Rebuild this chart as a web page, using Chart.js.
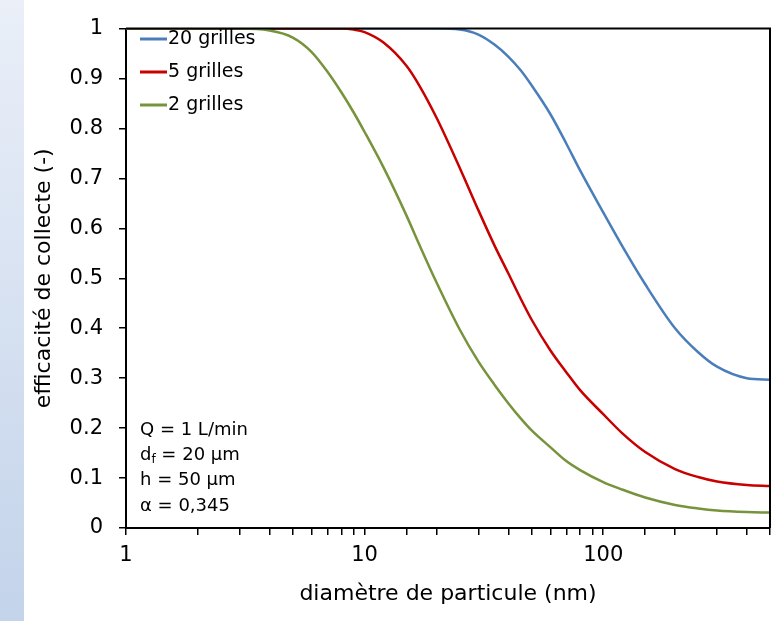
<!DOCTYPE html>
<html>
<head>
<meta charset="utf-8">
<script src="https://cdn.jsdelivr.net/npm/chart.js@4/dist/chart.umd.min.js"></script>
<style>
  body { margin: 0; background: #fff; }
  #bande { position: absolute; left: 0; top: 0; width: 24px; height: 621px;
           background: linear-gradient(#eaeff8, #c3d3ea); }
  #wrap { position: absolute; left: 0; top: 0; width: 783px; height: 621px; }
</style>
</head>
<body>
<div id="bande"></div>
<div id="wrap"><canvas id="graphe"></canvas></div>
<script>
// diamètres de particule (nm)
const diametres = [1, 2, 3, 4, 5, 6, 7, 8, 9, 10, 12, 15, 17, 20, 25, 30, 35, 40, 45, 50, 60, 70, 80, 100, 120, 150, 200, 250, 300, 400, 500];

// efficacité de collecte
const eff20 = [1, 1, 1, 1, 1, 1, 1, 1, 1, 1, 1, 1, 1, 1, 0.998, 0.988, 0.968, 0.944, 0.917, 0.887, 0.829, 0.77, 0.716, 0.632, 0.565, 0.488, 0.40, 0.352, 0.323, 0.300, 0.297];
const eff5 = [1, 1, 1, 1, 1, 1, 1, 1, 0.998, 0.993, 0.972, 0.925, 0.885, 0.822, 0.722, 0.636, 0.566, 0.51, 0.46, 0.418, 0.356, 0.312, 0.276, 0.228, 0.19, 0.152, 0.118, 0.102, 0.093, 0.086, 0.084];
const eff2 = [1, 1, 1, 0.996, 0.982, 0.953, 0.913, 0.872, 0.832, 0.793, 0.722, 0.625, 0.566, 0.492, 0.398, 0.333, 0.287, 0.25, 0.22, 0.196, 0.162, 0.134, 0.116, 0.092, 0.077, 0.061, 0.046, 0.039, 0.035, 0.032, 0.031];

const series = ["20 grilles", "5 grilles", "2 grilles"];
const couleurs = ["#4a7ebb", "#c80000", "#77933c"];
const notes = ["Q = 1 L/min", "d|f| = 20 µm", "h = 50 µm", "α = 0,345"];

const police = "'DejaVu Sans', sans-serif";

function points(vals) {
  return diametres.map((d, i) => ({ x: d, y: vals[i] }));
}

// cadre, légende et texte dans la zone du graphe
const decor = {
  id: "decor",
  afterDraw(chart) {
    const ctx = chart.ctx;
    const a = chart.chartArea;
    ctx.save();
    ctx.strokeStyle = "#000";
    ctx.lineWidth = 2;
    ctx.beginPath();
    ctx.moveTo(a.left, a.top);
    ctx.lineTo(a.right, a.top);
    ctx.lineTo(a.right, a.bottom);
    ctx.stroke();

    // légende
    ctx.font = "19px " + police;
    ctx.textBaseline = "middle";
    ctx.fillStyle = "#000";
    chart.data.datasets.forEach((ds, i) => {
      const y = 39 + i * 33;
      ctx.strokeStyle = ds.borderColor;
      ctx.lineWidth = 3;
      ctx.beginPath();
      ctx.moveTo(140, y);
      ctx.lineTo(167, y);
      ctx.stroke();
      ctx.fillText(ds.label, 168, y);
    });

    // paramètres
    ctx.font = "18px " + police;
    notes.forEach((t, i) => {
      const y = 430 + i * 25.3;
      const parts = t.split("|");
      let x = 140;
      parts.forEach((p, j) => {
        if (j === 1) {
          ctx.font = "12px " + police;
          ctx.fillText(p, x, y + 5);
          x += ctx.measureText(p).width;
          ctx.font = "18px " + police;
        } else {
          ctx.fillText(p, x, y);
          x += ctx.measureText(p).width;
        }
      });
    });
    ctx.restore();
  }
};

const ctx = document.getElementById("graphe");
const myChart = new Chart(ctx, {
  type: "line",
  data: {
    datasets: [
      { label: series[0], data: points(eff20), borderColor: couleurs[0], order: 2 },
      { label: series[1], data: points(eff5), borderColor: couleurs[1], order: 1 },
      { label: series[2], data: points(eff2), borderColor: couleurs[2], order: 0 },
    ],
  },
  options: {
    responsive: true,
    maintainAspectRatio: false,
    animation: false,
    layout: { padding: { top: 16, right: 13, left: 0, bottom: 0 } },
    elements: {
      point: { radius: 0 },
      line: { borderWidth: 2.5, cubicInterpolationMode: "monotone", fill: false },
    },
    plugins: { legend: { display: false }, tooltip: { enabled: false } },
    scales: {
      x: {
        type: "logarithmic",
        min: 1,
        max: 500,
        afterFit(scale) { scale.height = 93; },
        border: { display: true, color: "#000", width: 2 },
        grid: { display: true, drawOnChartArea: false, drawTicks: true, tickLength: 7, color: "#000", lineWidth: 1.5 },
        ticks: {
          autoSkip: false,
          maxRotation: 0,
          padding: 8,
          color: "#000",
          font: { family: police, size: 21 },
          callback(v) {
            return [1, 10, 100].includes(v) ? String(v) : "";
          },
        },
        title: {
          display: true,
          text: "diamètre de particule (nm)",
          color: "#000",
          font: { family: police, size: 22 },
          padding: { top: 0, bottom: 14 },
        },
      },
      y: {
        min: 0,
        max: 1,
        afterFit(scale) { scale.width = 126; },
        border: { display: true, color: "#000", width: 2 },
        grid: { display: true, drawOnChartArea: false, drawTicks: true, tickLength: 7, color: "#000", lineWidth: 1.5 },
        ticks: {
          stepSize: 0.1,
          padding: 16,
          color: "#000",
          font: { family: police, size: 21 },
          callback(v) {
            return String(Number(v.toFixed(1)));
          },
        },
        title: {
          display: true,
          text: "efficacité de collecte (-)",
          color: "#000",
          font: { family: police, size: 22 },
          padding: { top: 31, bottom: 0 },
        },
      },
    },
  },
  plugins: [decor],
});
</script>
</body>
</html>
